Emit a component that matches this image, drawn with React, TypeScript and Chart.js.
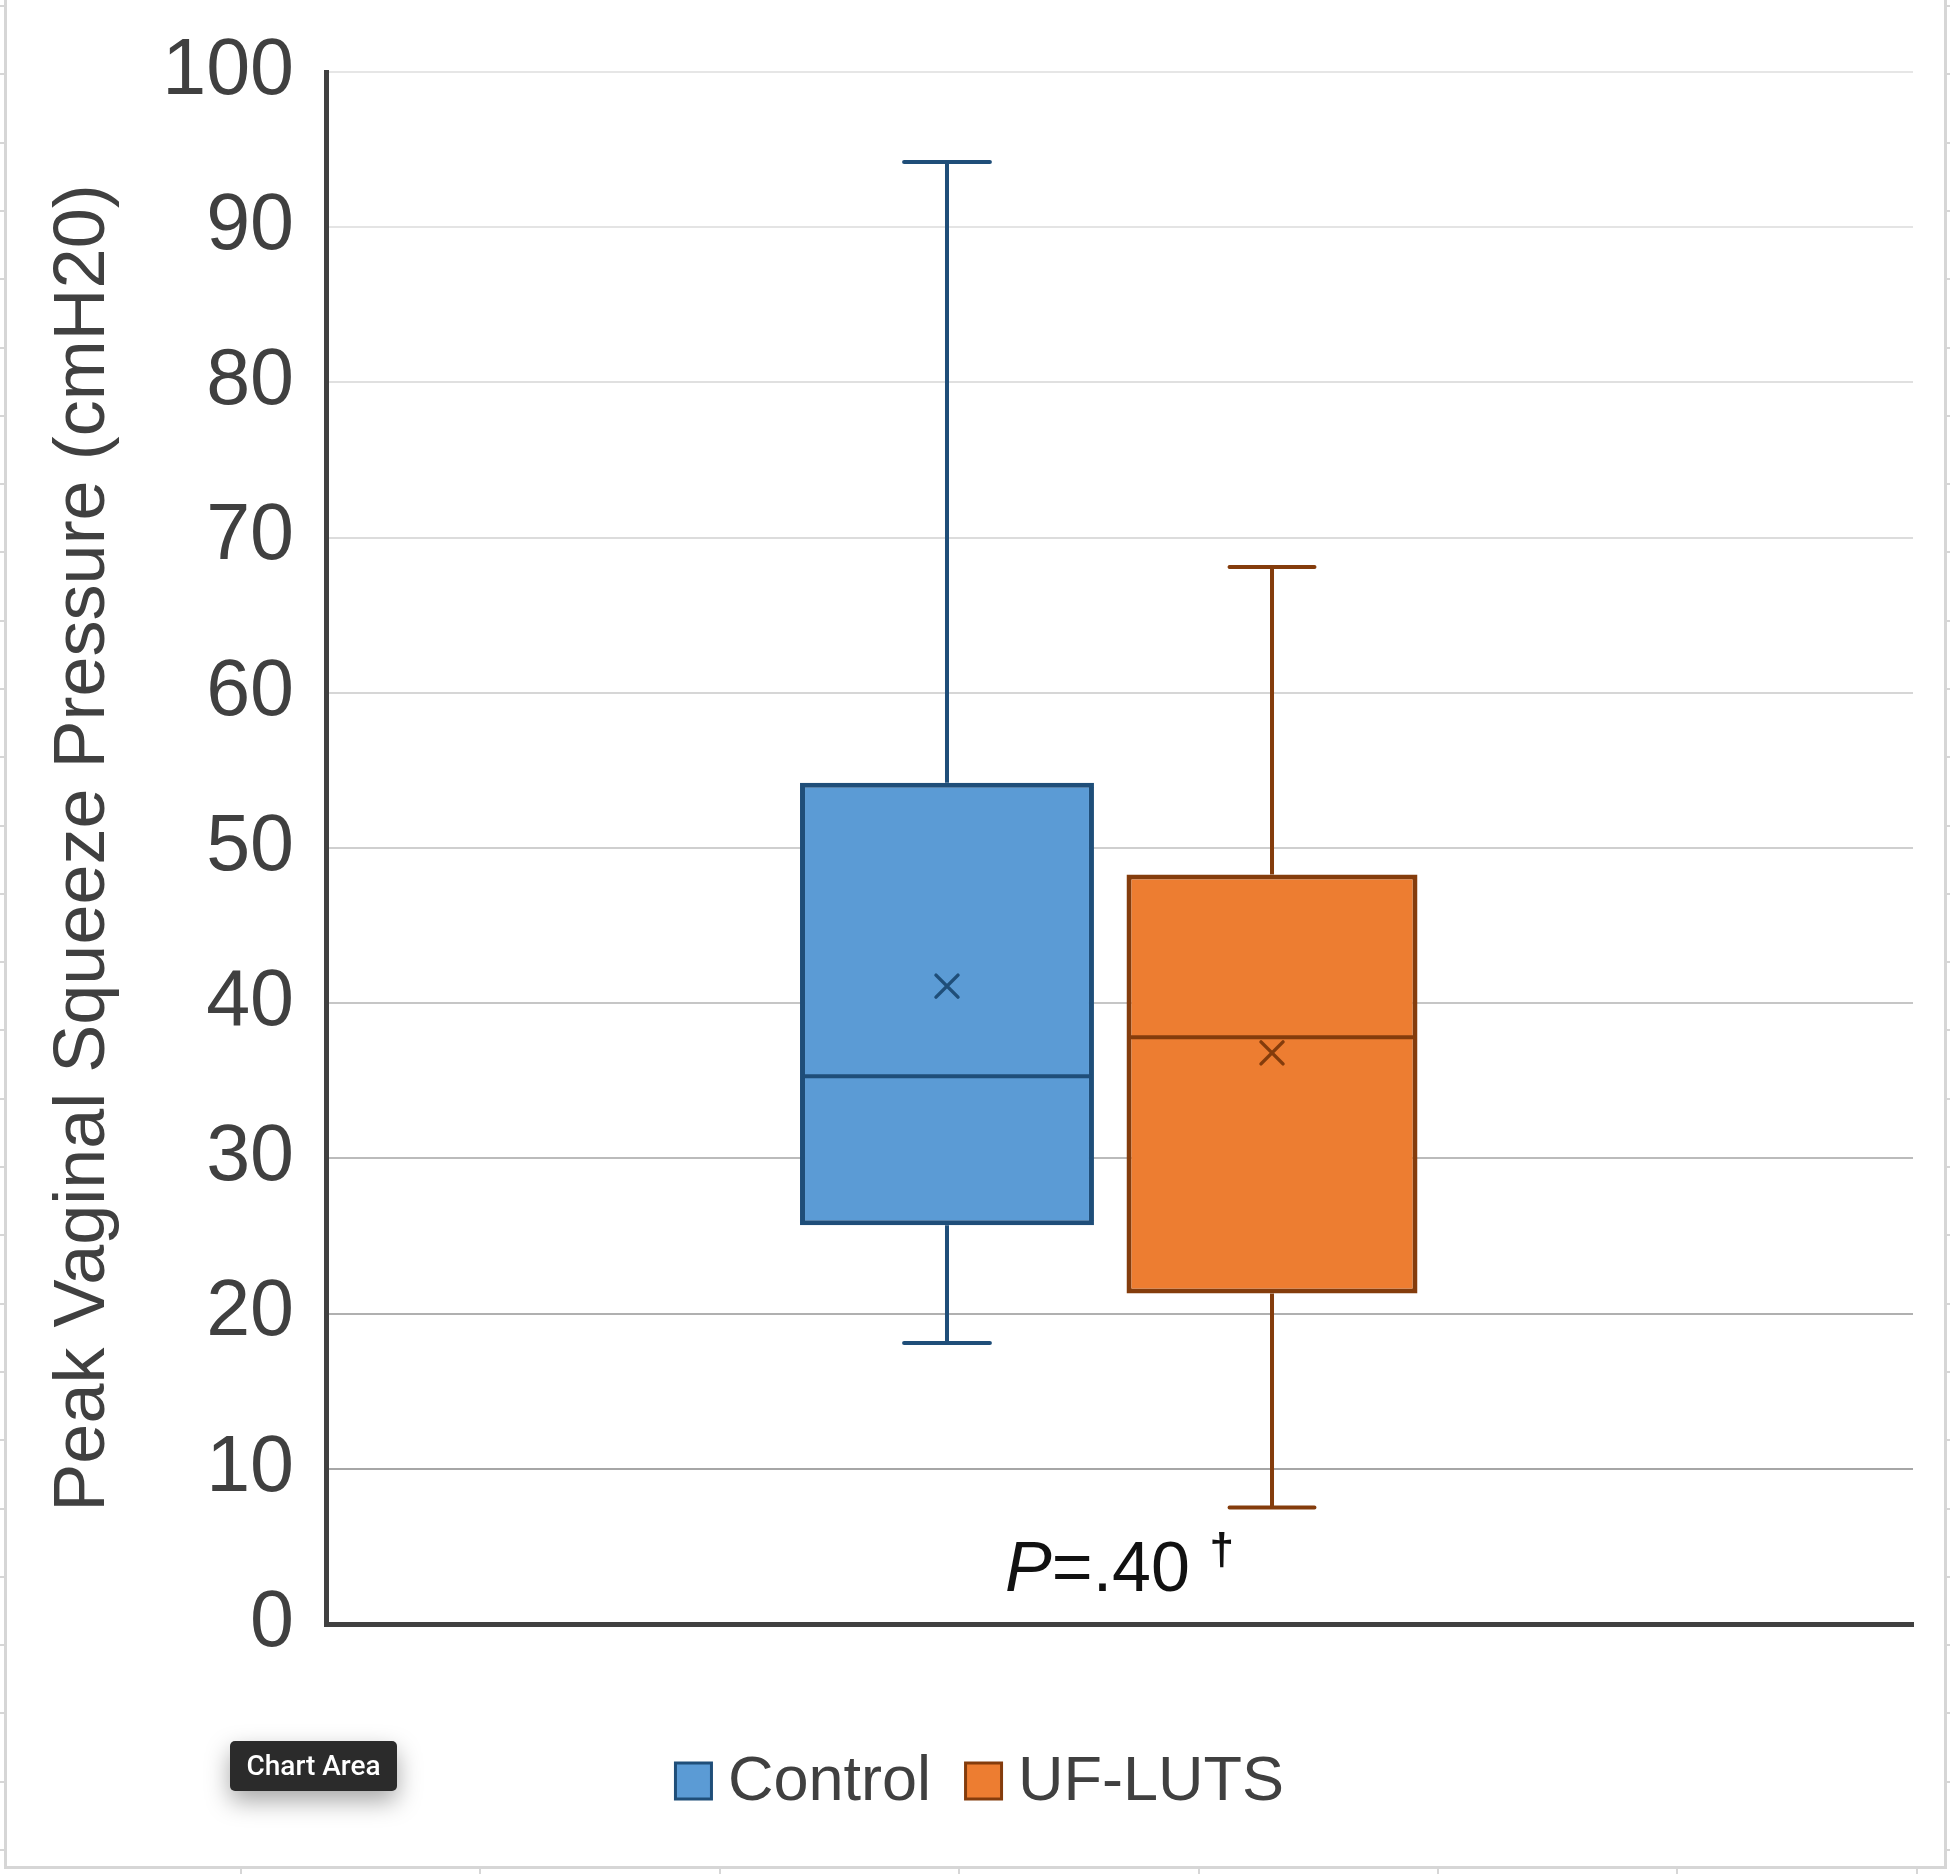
import React, { useEffect, useRef } from 'react';
import { Chart, registerables } from 'chart.js';

Chart.register(...registerables);

// ---------- data ----------
const categories = ['Peak Vaginal Squeeze Pressure'];
const seriesNames = ['Control', 'UF-LUTS'];
const minValues = [18.1, 7.5];
const q1Values = [25.7, 21.3];
const medianValues = [35.3, 37.8];
const q3Values = [54.2, 48.3];
const maxValues = [94.2, 68.1];
const meanValues = [41.1, 36.8];
const yTickValues = [0, 10, 20, 30, 40, 50, 60, 70, 80, 90, 100];
const yAxisTitle = 'Peak Vaginal Squeeze Pressure (cmH20)';
const pValueItalic = 'P';
const pValueRest = '=.40';
const pValueMark = '\u2020';
const pValueAt = 2.1;

// ---------- styles ----------
const fillColors = ['#5B9BD5', '#ED7D31'];
const edgeColors = ['#1F4E79', '#843C0C'];
const categoryPercents = [0.4348, 0.3844];
const barPercents = [0.852, 0.954];
const gridColors = ['#404040', '#A6A6A6', '#B0B0B0', '#BBBBBB', '#C6C6C6', '#CFCFCF', '#D6D6D6', '#DCDCDC', '#E0E0E0', '#E4E4E4', '#E6E6E6'];
const FONT = '"Liberation Sans", Arial, Helvetica, sans-serif';
const TEXT = '#404040';
const LEGEND_FONT = 63;
const LEGEND_BOX = 39;
const LEGEND_GAP = 15;
const LEGEND_ITEM_GAP = 33;
const LEGEND_OFFSET = 157;
const LEGEND_SHIFT = 4;

const boxExtras = {
  id: 'boxExtras',
  afterDatasetsDraw(chart: any) {
    const ctx = chart.ctx;
    const y = chart.scales.y;
    chart.data.datasets.forEach((_ds: any, i: number) => {
      const bar = chart.getDatasetMeta(i).data[0];
      if (!bar) return;
      const x = bar.x;
      const w = bar.width;
      ctx.save();
      ctx.strokeStyle = edgeColors[i];
      ctx.lineWidth = 4;
      ctx.lineCap = 'butt';
      ctx.beginPath();
      ctx.moveTo(x, y.getPixelForValue(q3Values[i]));
      ctx.lineTo(x, y.getPixelForValue(maxValues[i]));
      ctx.moveTo(x, y.getPixelForValue(q1Values[i]));
      ctx.lineTo(x, y.getPixelForValue(minValues[i]));
      ctx.stroke();
      const cap = w * 0.146;
      ctx.lineCap = 'round';
      ctx.beginPath();
      ctx.moveTo(x - cap, y.getPixelForValue(maxValues[i]));
      ctx.lineTo(x + cap, y.getPixelForValue(maxValues[i]));
      ctx.moveTo(x - cap, y.getPixelForValue(minValues[i]));
      ctx.lineTo(x + cap, y.getPixelForValue(minValues[i]));
      ctx.stroke();
      // median
      ctx.lineCap = 'butt';
      const ym = y.getPixelForValue(medianValues[i]);
      ctx.beginPath();
      ctx.moveTo(x - w / 2 + 2, ym);
      ctx.lineTo(x + w / 2 - 2, ym);
      ctx.stroke();
      // mean marker
      const yMean = y.getPixelForValue(meanValues[i]);
      const s = 11;
      ctx.lineWidth = 3.5;
      ctx.lineCap = 'round';
      ctx.beginPath();
      ctx.moveTo(x - s, yMean - s);
      ctx.lineTo(x + s, yMean + s);
      ctx.moveTo(x - s, yMean + s);
      ctx.lineTo(x + s, yMean - s);
      ctx.stroke();
      ctx.restore();
    });
  },
  afterDraw(chart: any) {
    const ctx = chart.ctx;
    const xs = chart.scales.x;
    const ys = chart.scales.y;
    // P-value annotation
    const cx = xs.getPixelForValue(0);
    const by = ys.getPixelForValue(pValueAt);
    ctx.save();
    ctx.fillStyle = '#111111';
    ctx.textBaseline = 'alphabetic';
    ctx.textAlign = 'left';
    const big = `70px ${FONT}`;
    const bigI = `italic 70px ${FONT}`;
    const small = `bold 44px ${FONT}`;
    ctx.font = bigI;
    const wP = ctx.measureText(pValueItalic).width;
    ctx.font = big;
    const wR = ctx.measureText(pValueRest + ' ').width;
    ctx.font = small;
    const wM = ctx.measureText(pValueMark).width;
    let x0 = cx - (wP + wR + wM) / 2;
    ctx.font = bigI;
    ctx.fillText(pValueItalic, x0, by);
    x0 += wP;
    ctx.font = big;
    ctx.fillText(pValueRest + ' ', x0, by);
    x0 += wR;
    ctx.font = small;
    ctx.fillText(pValueMark, x0, by - 27);
    ctx.restore();

    // legend
    ctx.save();
    ctx.font = `${LEGEND_FONT}px ${FONT}`;
    const widths = seriesNames.map((n) => ctx.measureText(n).width);
    let total = 0;
    widths.forEach((w, i) => {
      total += LEGEND_BOX + LEGEND_GAP + w + (i < widths.length - 1 ? LEGEND_ITEM_GAP : 0);
    });
    let lx = chart.width / 2 - total / 2 + LEGEND_SHIFT;
    const ly = chart.chartArea.bottom + LEGEND_OFFSET;
    seriesNames.forEach((n, i) => {
      ctx.fillStyle = fillColors[i];
      ctx.strokeStyle = edgeColors[i];
      ctx.lineWidth = 3;
      ctx.fillRect(lx + 1.5, ly - LEGEND_BOX / 2 + 1.5, LEGEND_BOX - 3, LEGEND_BOX - 3);
      ctx.strokeRect(lx + 1.5, ly - LEGEND_BOX / 2 + 1.5, LEGEND_BOX - 3, LEGEND_BOX - 3);
      ctx.fillStyle = TEXT;
      ctx.textBaseline = 'middle';
      ctx.textAlign = 'left';
      ctx.fillText(n, lx + LEGEND_BOX + LEGEND_GAP, ly + 2);
      lx += LEGEND_BOX + LEGEND_GAP + widths[i] + LEGEND_ITEM_GAP;
    });
    ctx.restore();
  },
};

export default function App() {
  const canvasRef = useRef<HTMLCanvasElement | null>(null);

  useEffect(() => {
    const canvas = canvasRef.current;
    if (!canvas) return;
    const chart = new Chart(canvas, {
      type: 'bar',
      data: {
        labels: categories,
        datasets: seriesNames.map((name, i) => ({
          label: name,
          data: [[q1Values[i], q3Values[i]]] as any,
          backgroundColor: fillColors[i],
          borderColor: edgeColors[i],
          borderWidth: 5,
          borderSkipped: false,
          categoryPercentage: categoryPercents[i],
          barPercentage: barPercents[i],
        })),
      },
      options: {
        responsive: false,
        animation: false,
        devicePixelRatio: 1,
        events: [],
        layout: { padding: { left: 0, right: 37, top: 72, bottom: 0 } },
        plugins: {
          tooltip: { enabled: false },
          legend: { display: false },
        },
        scales: {
          x: {
            type: 'category',
            grid: { display: false, drawTicks: false },
            border: { display: true, color: '#404040', width: 5 },
            ticks: { display: false },
            afterFit: (s: any) => { s.height = 250; },
          },
          y: {
            type: 'linear',
            min: 0,
            max: 100,
            afterBuildTicks: (s: any) => { s.ticks = yTickValues.map((v) => ({ value: v })); },
            grid: {
              drawTicks: false,
              lineWidth: 2,
              color: (c: any) => gridColors[c.index] || '#D9D9D9',
            },
            border: { display: true, color: '#404040', width: 5 },
            ticks: {
              font: { size: 79, family: FONT, lineHeight: 0.8 },
              color: TEXT,
              padding: 32,
            },
            title: {
              display: true,
              text: yAxisTitle,
              font: { size: 72, family: FONT },
              color: TEXT,
              padding: { top: 41, bottom: 0 },
            },
            afterFit: (s: any) => { s.width = 326; },
          },
        },
      },
      plugins: [boxExtras],
    });
    return () => chart.destroy();
  }, []);

  const leftTicks: number[] = [];
  for (let yy = 5; yy < 1867; yy += 68.3) leftTicks.push(Math.round(yy));
  const bottomTicks: number[] = [];
  for (let xx = 240; xx < 1944; xx += 239.4) bottomTicks.push(Math.round(xx));

  return (
    <div style={{ position: 'fixed', left: 0, top: 0, width: 1950, height: 1874, background: '#ffffff', overflow: 'hidden' }}>
      <div style={{ position: 'absolute', left: 4, top: -4, width: 1943, height: 1873, boxSizing: 'border-box', borderLeft: '3px solid #D6D6D6', borderRight: '3px solid #D6D6D6', borderBottom: '3px solid #D6D6D6' }} />
      {leftTicks.map((t) => (
        <div key={'l' + t} style={{ position: 'absolute', left: 0, top: t, width: 5, height: 2, background: '#D6D6D6' }} />
      ))}
      {leftTicks.map((t) => (
        <div key={'r' + t} style={{ position: 'absolute', left: 1945, top: t, width: 5, height: 2, background: '#D6D6D6' }} />
      ))}
      {bottomTicks.map((t) => (
        <div key={'b' + t} style={{ position: 'absolute', left: t, top: 1869, width: 2, height: 5, background: '#D6D6D6' }} />
      ))}
      <canvas ref={canvasRef} width={1950} height={1874} style={{ position: 'absolute', left: 0, top: 0, width: 1950, height: 1874 }} />
      <div style={{ position: 'absolute', left: 230, top: 1741, width: 167, height: 50, background: '#2B2B2B', borderRadius: 5, boxShadow: '0 10px 24px rgba(0,0,0,0.35)', color: '#ffffff', fontFamily: 'Roboto, "Liberation Sans", Arial, sans-serif', fontWeight: 500, fontSize: 28, lineHeight: '50px', textAlign: 'center', whiteSpace: 'nowrap' }}>Chart Area</div>
    </div>
  );
}
